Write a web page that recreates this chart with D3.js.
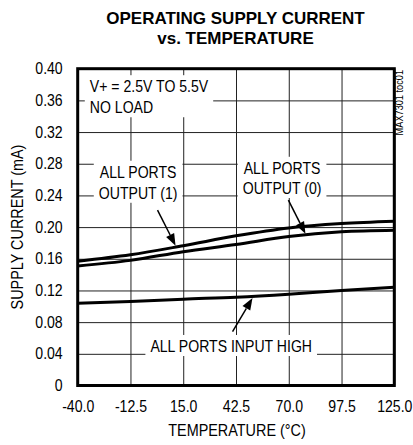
<!DOCTYPE html>
<html>
<head>
<meta charset="utf-8">
<script src="https://cdn.jsdelivr.net/npm/d3@7"></script>
<style>
  body { margin: 0; background: #fff; }
  text { font-family: "Liberation Sans", Arial, sans-serif; fill: #000; }
</style>
</head>
<body>
<div class="canvas"></div>
<script>
// data
const temps = [-40, -12.5, 15, 42.5, 70, 97.5, 125];
const output1 = [0.157, 0.165, 0.1765, 0.189, 0.199, 0.2045, 0.2075];
const output0 = [0.151, 0.158, 0.169, 0.178, 0.188, 0.194, 0.196];
const inputHigh = [0.104, 0.106, 0.109, 0.1115, 0.1153, 0.120, 0.124];

const xTicks = [-40, -12.5, 15, 42.5, 70, 97.5, 125];
const xTickLabels = ['-40.0', '-12.5', '15.0', '42.5', '70.0', '97.5', '125.0'];
const yTicks = [0, 0.04, 0.08, 0.12, 0.16, 0.20, 0.24, 0.28, 0.32, 0.36, 0.40];
const yTickLabels = ['0', '0.04', '0.08', '0.12', '0.16', '0.20', '0.24', '0.28', '0.32', '0.36', '0.40'];

// annotation positions in data units: [temp, mA]
const arrows = [
    { from: [1.6, 0.2215], to: [11.0, 0.1765] },
    { from: [69.8, 0.234], to: [78.7, 0.1915] },
    { from: [40.7, 0.068], to: [51.1, 0.1105] }
];

const W = 413, H = 445;
const plotL = 77.7, plotT = 68.7, plotR = 394.3, plotB = 385.5;
const w = plotR - plotL, h = plotB - plotT;
const SX = 0.88;

const x = d3.scaleLinear().domain([-40, 125]).range([0, w]);
const y = d3.scaleLinear().domain([0, 0.4]).range([h, 0]);

const svg = d3.select('.canvas').append('svg')
    .attr('width', W)
    .attr('height', H);

// title
const title = svg.append('g');
['OPERATING SUPPLY CURRENT', 'vs. TEMPERATURE'].forEach((t, i) => {
    title.append('text')
        .attr('transform', `translate(235.5, ${24 + i * 19.5})`)
        .attr('text-anchor', 'middle')
        .attr('font-size', 17)
        .attr('font-weight', 'bold')
        .text(t);
});

const group = svg.append('g')
    .attr('transform', `translate(${plotL}, ${plotT})`);

// grid + tick labels
const yAxis = group.append('g')
    .call(d3.axisLeft(y).tickValues(yTicks)
        .tickFormat(d => yTickLabels[yTicks.indexOf(d)])
        .tickSize(-w).tickPadding(0));
yAxis.select('.domain').remove();
yAxis.selectAll('line').attr('stroke', '#222').attr('stroke-width', 1);
yAxis.selectAll('text')
    .attr('x', null)
    .attr('transform', `translate(-15, 0) scale(${SX}, 1)`)
    .attr('font-size', 16)
    .attr('font-family', '"Liberation Sans", Arial, sans-serif');

const xAxis = group.append('g')
    .attr('transform', `translate(0, ${h})`)
    .call(d3.axisBottom(x).tickValues(xTicks)
        .tickFormat(d => xTickLabels[xTicks.indexOf(d)])
        .tickSize(-h).tickPadding(15));
xAxis.select('.domain').remove();
xAxis.selectAll('line').attr('stroke', '#222').attr('stroke-width', 1);
xAxis.selectAll('text')
    .attr('transform', `scale(${SX}, 1)`)
    .attr('font-size', 16)
    .attr('font-family', '"Liberation Sans", Arial, sans-serif');

// labels with white boxes that break the grid
function labelBlock(lines, anchor) {
    const g = group.append('g');
    lines.forEach(l => {
        g.append('text')
            .attr('transform', `translate(${x(l[1])}, ${y(l[2])}) scale(${SX}, 1)`)
            .attr('text-anchor', anchor)
            .attr('font-size', 16)
            .text(l[0]);
    });
    const bb = g.node().getBBox();
    g.insert('rect', 'text')
        .attr('x', bb.x - 5)
        .attr('y', bb.y - 2)
        .attr('width', bb.width + 10)
        .attr('height', bb.height + 3)
        .attr('fill', '#fff');
}

labelBlock([['V+ = 2.5V TO 5.5V', -33.7, 0.3705], ['NO LOAD', -33.7, 0.344]], 'start');
labelBlock([['ALL PORTS', -8.5, 0.2625], ['OUTPUT (1)', -8.5, 0.236]], 'middle');
labelBlock([['ALL PORTS', 66.5, 0.2675], ['OUTPUT (0)', 66.5, 0.242]], 'middle');
labelBlock([['ALL PORTS INPUT HIGH', 40, 0.0425]], 'middle');

// curves
const line = d3.line()
    .x((d, i) => x(temps[i]))
    .y(d => y(d))
    .curve(d3.curveMonotoneX);

[output1, output0, inputHigh].forEach(s => {
    group.append('path')
        .attr('d', line(s))
        .attr('fill', 'none')
        .attr('stroke', '#000')
        .attr('stroke-width', 3);
});

// arrows
arrows.forEach(a => {
    const x1 = x(a.from[0]), y1 = y(a.from[1]);
    const x2 = x(a.to[0]), y2 = y(a.to[1]);
    const ang = Math.atan2(y2 - y1, x2 - x1);
    const len = 12, hw = 4.5;
    const bx = x2 - len * Math.cos(ang), by = y2 - len * Math.sin(ang);
    group.append('line')
        .attr('x1', x1).attr('y1', y1)
        .attr('x2', bx).attr('y2', by)
        .attr('stroke', '#000')
        .attr('stroke-width', 1.5);
    group.append('polygon')
        .attr('points', [
            [x2, y2],
            [bx + hw * Math.sin(ang), by - hw * Math.cos(ang)],
            [bx - hw * Math.sin(ang), by + hw * Math.cos(ang)]
        ].map(p => p.join(',')).join(' '))
        .attr('fill', '#000');
});

// frame
group.append('rect')
    .attr('width', w)
    .attr('height', h)
    .attr('fill', 'none')
    .attr('stroke', '#000')
    .attr('stroke-width', 3);

// axis titles
svg.append('text')
    .attr('transform', `translate(237, 436) scale(0.9, 1)`)
    .attr('text-anchor', 'middle')
    .attr('font-size', 16)
    .text('TEMPERATURE (°C)');

svg.append('text')
    .attr('transform', `translate(23, 227) rotate(-90) scale(0.9, 1)`)
    .attr('text-anchor', 'middle')
    .attr('font-size', 16)
    .text('SUPPLY CURRENT (mA)');

svg.append('text')
    .attr('transform', `translate(403, 70) rotate(-90) scale(0.92, 1)`)
    .attr('text-anchor', 'end')
    .attr('font-size', 10)
    .text('MAX7301 toc01');
</script>
</body>
</html>
